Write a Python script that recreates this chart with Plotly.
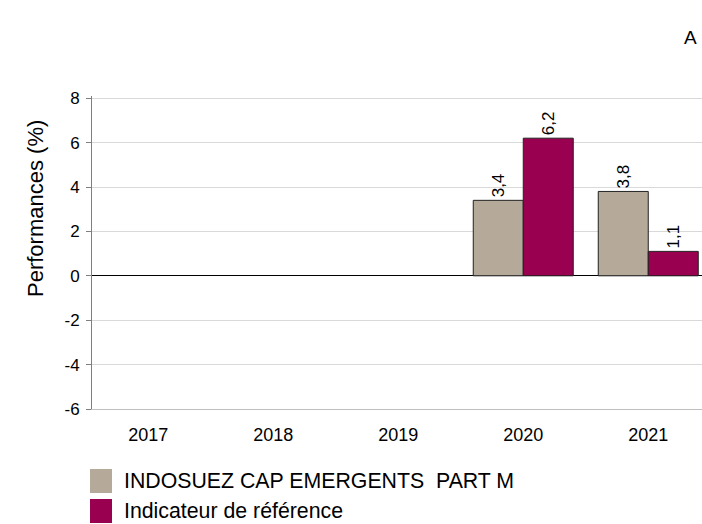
import plotly.graph_objects as go

years = ["2017", "2018", "2019", "2020", "2021"]
fund_name = "INDOSUEZ CAP EMERGENTS  PART M"
bench_name = "Indicateur de référence"
fund_values = [None, None, None, 3.4, 3.8]
bench_values = [None, None, None, 6.2, 1.1]
y_ticks = [-6, -4, -2, 0, 2, 4, 6, 8]
y_ticktext = [str(v) for v in y_ticks]
y_title = "Performances (%)"

fund_color = "#B5A99A"
bench_color = "#990050"
FONT = "Liberation Sans, Arial, sans-serif"

W, H = 702, 524
ML, MR, MT, MB = 92, 0, 96, 115
PW, PH = W - ML - MR, H - MT - MB


def px(x):
    return (x - ML) / PW


def py(y):
    return (H - MB - y) / PH


fig = go.Figure()
for name, vals, col in [(fund_name, fund_values, fund_color), (bench_name, bench_values, bench_color)]:
    fig.add_trace(go.Bar(
        x=years, y=vals, name=name,
        marker=dict(color=col, line=dict(color="#222222", width=1)),
        texttemplate="%{y:.1f}", textposition="outside", textangle=-90,
        textfont=dict(size=17, color="#000000", family=FONT),
        cliponaxis=False, showlegend=False,
    ))

fig.update_layout(
    width=W, height=H,
    margin=dict(l=ML, r=MR, t=MT, b=MB),
    paper_bgcolor="white", plot_bgcolor="white",
    barmode="group", bargap=0.2, bargroupgap=0,
    separators=", ",
    font=dict(family=FONT, size=17, color="#000000"),
)
fig.update_xaxes(
    type="category", range=[-0.45, 4.43],
    showline=True, linecolor="#BFBFBF", linewidth=1,
    ticks="", showgrid=False,
    tickfont=dict(size=18, family=FONT),
    ticklabelstandoff=9,
)
fig.update_yaxes(
    range=[-6, 8.1], tickvals=y_ticks, ticktext=y_ticktext,
    showline=True, linecolor="#7F7F7F", linewidth=1,
    ticks="outside", ticklen=5, tickcolor="#7F7F7F",
    showgrid=True, gridcolor="#D9D9D9", gridwidth=1,
    zeroline=True, zerolinecolor="#000000", zerolinewidth=1,
    tickfont=dict(size=17, family=FONT),
    ticklabelstandoff=3,
)

# y-axis title
fig.add_annotation(text=y_title, xref="paper", yref="paper",
                   x=px(35), y=py(209), textangle=-90,
                   xanchor="center", yanchor="middle", showarrow=False,
                   font=dict(size=22, family=FONT, color="#000000"))

# custom legend below the plot
legend_items = [(fund_name, fund_color, 481), (bench_name, bench_color, 511)]
for name, col, yc in legend_items:
    fig.add_shape(type="rect", xref="paper", yref="paper",
                  x0=px(90), x1=px(112),
                  y0=py(yc + 12), y1=py(yc - 12),
                  fillcolor=col, line=dict(width=0))
    fig.add_annotation(text=name, xref="paper", yref="paper",
                       x=px(122), y=py(yc),
                       xanchor="left", yanchor="middle", showarrow=False,
                       font=dict(size=21.3, family=FONT, color="#000000"))

fig.add_annotation(text="A", xref="paper", yref="paper",
                   x=px(690), y=py(37),
                   xanchor="center", yanchor="middle", showarrow=False,
                   font=dict(size=19, family=FONT, color="#000000"))

fig.write_html("out.html", config={"displayModeBar": False},
               post_script="document.body.style.margin='0';document.body.style.overflow='hidden';")
